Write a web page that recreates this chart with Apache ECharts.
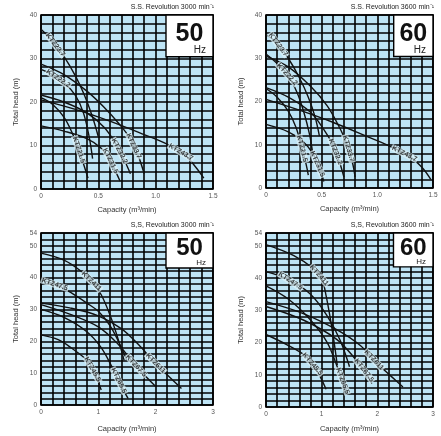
<!DOCTYPE html>
<html><head><meta charset="utf-8">
<script src="https://cdn.jsdelivr.net/npm/echarts@6/dist/echarts.min.js"></script>
<style>html,body{margin:0;padding:0;background:#fff}#c{width:441px;height:436px}</style>
</head><body><div id="c"></div>
<script>
// ---------- DATA: [capacity (m3/min), total head (m)] ----------
// Panel 1: 50 Hz, 3000 min-1 (small models)
const a50_KTZ237 = [[0,36.7],[0.1,34],[0.2,30.5],[0.3,26],[0.38,21.5],[0.45,16.5],[0.5,12]];
const a50_KTZ222 = [[0,27.5],[0.1,26.3],[0.2,24.5],[0.3,21.5],[0.37,17.5],[0.42,12],[0.45,7]];
const a50_KTZ215 = [[0,21],[0.1,19.5],[0.2,16.5],[0.27,13],[0.33,9],[0.38,5],[0.41,2.5]];
const a50_KTZ337 = [[0,28.7],[0.2,26.3],[0.4,22.5],[0.55,18.8],[0.68,15],[0.78,11.5],[0.85,7.5],[0.9,3.5]];
const a50_KTZ322 = [[0,21.6],[0.2,20],[0.4,17.5],[0.55,14.2],[0.65,10.5],[0.72,7],[0.78,3.5]];
const a50_KTZ315 = [[0,14.5],[0.2,13.3],[0.4,11.6],[0.52,9.5],[0.6,6.8],[0.66,3.5],[0.69,1.8]];
const a50_KTZ437 = [[0,20.5],[0.3,18.3],[0.6,15.6],[0.9,12.5],[1.1,10.3],[1.25,8],[1.35,5],[1.42,2.5]];
// Panel 2: 60 Hz, 3600 min-1 (small models)
const a60_KTZ237 = [[0,35.5],[0.1,33.5],[0.2,30],[0.3,25.5],[0.38,21],[0.44,16.5],[0.48,12]];
const a60_KTZ222 = [[0,31],[0.1,28.8],[0.2,26],[0.28,22],[0.34,17.5],[0.39,12.5],[0.42,8]];
const a60_KTZ215 = [[0,23],[0.1,21],[0.2,17.8],[0.27,14],[0.32,9.5],[0.36,5.5],[0.38,3]];
const a60_KTZ337 = [[0,30.5],[0.2,28],[0.4,23.5],[0.55,19],[0.65,14.5],[0.73,10],[0.78,5.5],[0.8,2.5]];
const a60_KTZ322 = [[0,23.2],[0.2,21],[0.4,17.5],[0.52,13.5],[0.6,10],[0.66,6],[0.7,2.5]];
const a60_KTZ315 = [[0,14.7],[0.2,13],[0.33,10.8],[0.42,8],[0.48,4.5],[0.52,1.5]];
const a60_KTZ437 = [[0,20.5],[0.3,18],[0.6,15.2],[0.9,12],[1.1,9.8],[1.28,7.5],[1.4,4.8],[1.48,2]];
// Panel 3: 50 Hz, 3000 min-1 (large models)
const b50_KTZ411 = [[0,47.7],[0.4,45.5],[0.7,42],[0.9,38.5],[1.05,34.6],[1.2,28.4],[1.34,21],[1.45,14]];
const b50_KTZ475 = [[0,39.3],[0.3,37.5],[0.53,35.2],[0.8,32],[1.0,29.4],[1.2,25],[1.35,20],[1.5,14]];
const b50_KTZ611 = [[0,32],[0.5,30.5],[1.0,28],[1.4,24],[1.7,19],[1.95,14],[2.2,9.5],[2.45,5.2]];
const b50_KTZ675 = [[0,31.5],[0.5,28.5],[1.0,24.5],[1.35,19],[1.6,13.5],[1.8,9.5],[2.0,5.8]];
const b50_KTZ655 = [[0,30],[0.4,27.5],[0.8,23],[1.05,18],[1.25,11.5],[1.4,6],[1.52,2]];
const b50_KTZ455 = [[0,22],[0.3,20.5],[0.53,17.9],[0.82,13.7],[0.95,9.5],[1.05,4.7]];
// Panel 4: 60 Hz, 3600 min-1 (large models)
const b60_KTZ411 = [[0,50.4],[0.5,47],[0.85,43],[1.0,40],[1.08,34.5],[1.15,28],[1.22,20.5],[1.28,13]];
const b60_KTZ475 = [[0,42],[0.4,39.6],[0.8,35],[1.09,28.5],[1.33,20.8],[1.5,12.5]];
const b60_KTZ611 = [[0,32.7],[0.67,29],[1.27,24],[1.7,19],[2.0,13.5],[2.25,9.5],[2.46,6.2]];
const b60_KTZ675 = [[0,31.2],[0.67,27],[1.27,21],[1.6,15],[1.78,11],[1.9,7.3]];
const b60_KTZ655 = [[0,37.6],[0.4,33.5],[0.8,27],[1.1,20],[1.28,12.5],[1.4,7],[1.47,4]];
const b60_KTZ455 = [[0,22.5],[0.38,19.3],[0.7,16],[0.85,13],[0.97,9.5],[1.08,5.5]];

const titles = ['S.S. Revolution 3000 min⁻¹','S.S. Revolution 3600 min⁻¹','S,S, Revolution 3000 min⁻¹','S,S, Revolution 3600 min⁻¹'];
const hzText = ['50','60','50','60'];
const xMaxes = [1.5,1.5,3,3];
const yMaxes = [40,40,54,54];

// ---------- LAYOUT / STYLE ----------
const panels = [
  {grid:{left:41,top:15,width:172,height:174}, xStep:0.1, xLab:0.5, dec:1, box:[1.09,30.4], bigFont:25, hzFont:10, nameGapX:17,
   curves:[['KTZ23.7',a50_KTZ237,1.25],['KTZ22.2',a50_KTZ222,1.5],['KTZ21.5',a50_KTZ215,4.0],['KTZ33.7',a50_KTZ337,5.4],
           ['KTZ32.2',a50_KTZ322,4.5],['KTZ31.5',a50_KTZ315,4.1],['KTZ43.7',a50_KTZ437,4.8]]},
  {grid:{left:266,top:15,width:167,height:173}, xStep:0.1, xLab:0.5, dec:1, box:[1.147,30.4], bigFont:25, hzFont:10, nameGapX:17,
   curves:[['KTZ23.7',a60_KTZ237,1.1],['KTZ22.2',a60_KTZ222,1.9],['KTZ21.5',a60_KTZ215,4.1],['KTZ33.7',a60_KTZ337,5.2],
           ['KTZ32.2',a60_KTZ322,4.4],['KTZ31.5',a60_KTZ315,3.7],['KTZ43.7',a60_KTZ437,4.8]]},
  {grid:{left:41,top:233,width:172,height:172}, xStep:0.2, xLab:1, dec:0, box:[2.18,43], bigFont:24, hzFont:8, nameGapX:20,
   curves:[['KTZ411',b50_KTZ411,2.9],['KTZ47.5',b50_KTZ475,0.8],['KTZ611',b50_KTZ611,5.2],['KTZ67.5',b50_KTZ675,4.3],
           ['KTZ65.5',b50_KTZ655,4.7],['KTZ45.5',b50_KTZ455,3.6]]},
  {grid:{left:266,top:233,width:167,height:174}, xStep:0.2, xLab:1, dec:0, box:[2.29,43.5], bigFont:24, hzFont:8, nameGapX:18,
   curves:[['KTZ411',b60_KTZ411,2.7],['KTZ47.5',b60_KTZ475,1.1],['KTZ611',b60_KTZ611,3.8],['KTZ67.5',b60_KTZ675,3.9],
           ['KTZ65.5',b60_KTZ655,4.8],['KTZ45.5',b60_KTZ455,2.9]]}
];

const FONT = 'Liberation Sans, Arial, sans-serif';
const near = (v, s) => Math.abs(v / s - Math.round(v / s)) < 1e-6;

const option = {
  animation: false,
  backgroundColor: '#fff',
  textStyle: {fontFamily: FONT},
  grid: panels.map(p => Object.assign({show:true, backgroundColor:'#bee4f5', borderColor:'#000', borderWidth:1.6}, p.grid)),
  xAxis: panels.map((p, i) => ({
    type:'value', gridIndex:i, min:0, max:xMaxes[i], interval:p.xStep,
    axisLine:{show:false}, axisTick:{show:false},
    splitLine:{show:true, lineStyle:{color:'#000', width:1.6}},
    axisLabel:{color:'#555', fontSize:6.5, margin:4, showMaxLabel:true,
      formatter: v => near(v, p.xLab) ? (v === 0 ? '0' : v.toFixed(p.dec)) : ''},
    name:'Capacity (m³/min)', nameLocation:'middle', nameGap:p.nameGapX,
    nameTextStyle:{color:'#333', fontSize:7.5}
  })),
  yAxis: panels.map((p, i) => ({
    type:'value', gridIndex:i, min:0, max:yMaxes[i], interval:2,
    axisLine:{show:false}, axisTick:{show:false},
    splitLine:{show:true, lineStyle:{color:'#000', width:1.6}},
    axisLabel:{color:'#555', fontSize:6.5, margin:4,
      formatter: v => (near(v,10) || v === yMaxes[i]) ? String(v) : ''},
    name:'Total head (m)', nameLocation:'middle', nameGap:21,
    nameTextStyle:{color:'#333', fontSize:7.5}
  })),
  series: []
};
panels.forEach((p, i) => {
  p.curves.forEach(c => {
    option.series.push({
      type:'line', name:c[0], xAxisIndex:i, yAxisIndex:i, data:c[1],
      smooth:0.35, showSymbol:false, symbol:'none',
      lineStyle:{color:'#111', width:1.4}, z:5
    });
  });
});

const chart = echarts.init(document.getElementById('c'), null, {renderer:'canvas'});
chart.setOption(option);

// second pass: curve labels and the Hz boxes (pixel positions derived from the axes)
const graphics = [];
const labelSeries = [];
panels.forEach((p, i) => {
  const labData = [];
  p.curves.forEach(c => {
    const pts = c[1], t = c[2];
    const k = Math.min(Math.floor(t), pts.length - 2), f = t - k;
    const a = pts[k], b = pts[k + 1];
    const pt = [a[0] + (b[0] - a[0]) * f, a[1] + (b[1] - a[1]) * f];
    const pa = chart.convertToPixel({gridIndex:i}, a);
    const pb = chart.convertToPixel({gridIndex:i}, b);
    const rot = -Math.atan2(pb[1] - pa[1], pb[0] - pa[0]) * 180 / Math.PI;
    labData.push({value:pt, label:{formatter:c[0], rotate:rot}});
  });
  labelSeries.push({
    type:'scatter', xAxisIndex:i, yAxisIndex:i, symbolSize:0, data:labData, z:8, silent:true,
    label:{show:true, position:'inside', color:'#111', fontSize:7, fontWeight:'bold', fontFamily:FONT,
      backgroundColor:'rgba(222,242,250,0.9)', padding:[0,1]}
  });
  const tl = chart.convertToPixel({gridIndex:i}, [p.box[0], yMaxes[i]]);
  const br = chart.convertToPixel({gridIndex:i}, [xMaxes[i], p.box[1]]);
  const w = br[0] - tl[0], h = br[1] - tl[1];
  graphics.push({type:'rect', z:100, shape:{x:tl[0], y:tl[1], width:w, height:h},
    style:{fill:'#fff', stroke:'#000', lineWidth:1.4}});
  graphics.push({type:'text', z:101, x:tl[0] + w / 2, y:tl[1] + h * 0.45,
    style:{text:hzText[i], fontSize:p.bigFont, fontWeight:'bold', fontFamily:FONT, fill:'#111',
      textAlign:'center', textVerticalAlign:'middle'}});
  graphics.push({type:'text', z:101, x:br[0] - 7, y:br[1] - 1.5,
    style:{text:'Hz', fontSize:p.hzFont, fontFamily:FONT, fill:'#222', textAlign:'right', textVerticalAlign:'bottom'}});
  const g = p.grid;
  graphics.push({type:'text', z:101, x:g.left + g.width + 1, y:g.top - 8,
    style:{text:titles[i], fontSize:7, fontFamily:FONT, fill:'#222', textAlign:'right', textVerticalAlign:'middle'}});
});
chart.setOption({series: option.series.concat(labelSeries), graphic: graphics});
</script>
</body></html>
